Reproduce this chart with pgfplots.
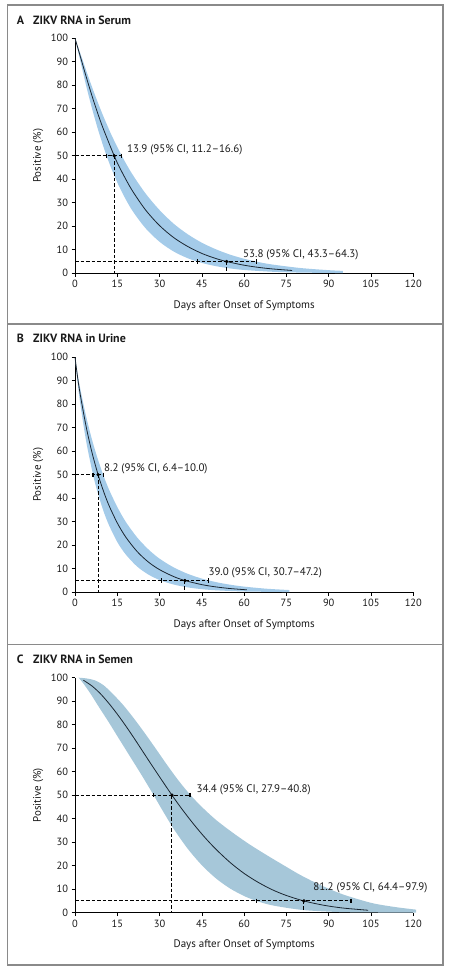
\documentclass[border=0pt]{standalone}
\usepackage{fontspec}
\setmainfont{PT Sans}
\usepackage{pgfplots}
\pgfplotsset{compat=1.18}
\usepgfplotslibrary{fillbetween}
\definecolor{bandAB}{HTML}{A4CBE9}
\definecolor{bandC}{HTML}{A6C7D9}
\definecolor{curve}{HTML}{1B2631}
\definecolor{framegray}{HTML}{8A8A8A}
\definecolor{txt}{HTML}{1A1A1A}
\pgfplotsset{
 zika/.style={
  scale only axis, width=338.3bp, height=235bp,
  xmin=0, xmax=120, ymin=0, ymax=100,
  axis lines=left, axis line style={-, black, line width=0.6bp},
  xtick={0,15,...,120}, ytick={0,10,...,100},
  tick align=outside, major tick length=3.5bp,
  tick style={black, line width=0.6bp},
  tick label style={font=\fontsize{10.5}{11}\selectfont, text=txt},
  /pgf/number format/assume math mode=true,
  xlabel={Days after Onset of Symptoms},
  ylabel={Positive (\%)},
  label style={font=\fontsize{11}{12}\selectfont, text=txt},
  xlabel style={at={(axis description cs:0.5,-0.1362)}, anchor=center},
  ylabel style={at={(axis description cs:-0.1085,0.5)}, anchor=center},
  clip=false,
 },
 dsh/.style={black, line width=1bp, dash pattern=on 3.5bp off 2bp},
 caps/.style={only marks, mark=|, black, mark size=2.2bp, mark options={solid, line width=1.1bp}},
 dots/.style={only marks, mark=*, black, mark size=1.5bp},
 med/.style={curve, line width=0.8bp, smooth},
}
\tikzset{ann/.style={anchor=west, inner sep=0pt, font=\fontsize{11}{12}\selectfont, text=txt},
 ttl/.style={anchor=west, inner sep=0pt, font=\bfseries\fontsize{12}{13}\selectfont, text=txt}}
\begin{document}
\begin{tikzpicture}
\path (0,0) rectangle (450bp,974bp);
\draw[framegray, line width=1.3bp] (7.5bp,9bp) rectangle (443bp,969bp);
\draw[framegray, line width=1.3bp] (7.5bp,650bp) -- (443bp,650bp);
\draw[framegray, line width=1.3bp] (7.5bp,329.5bp) -- (443bp,329.5bp);

\node[ttl] at (16.7bp,954bp) {A};
\node[ttl] at (33bp,954bp) {ZIKV RNA in Serum};
\node[ttl] at (16.7bp,636bp) {B};
\node[ttl] at (33bp,636bp) {ZIKV RNA in Urine};
\node[ttl] at (16.7bp,315bp) {C};
\node[ttl] at (33bp,315bp) {ZIKV RNA in Semen};

% ---------------- Panel A
\begin{axis}[zika, at={(75bp,700.7bp)}, anchor=south west]
\addplot[name path=AU, draw=none, smooth] coordinates {(0,100)(2,93.2)(4,86.2)(6,79.4)(8,73.0)(10,67.0)(13,58.7)(16.6,50)(20,42.8)(25,34.0)(30,26.9)(35,21.1)(40,16.6)(45,13.0)(50,10.2)(55,7.94)(60,6.18)(65,4.80)(70,3.73)(80,2.24)(90,1.33)(95,1.03)};
\addplot[name path=AL, draw=none, smooth] coordinates {(0,100)(2,89.8)(4,79.6)(6,70.3)(8,61.8)(10,54.2)(11.2,50)(13,44.3)(16,36.1)(20,27.3)(25,19.2)(30,13.4)(35,9.27)(40,6.41)(45,4.41)(50,3.03)(55,2.07)(60,1.41)(70,0.65)(80,0.30)(95,0.09)};
\addplot[bandAB, draw=none] fill between[of=AU and AL];
\addplot[med] coordinates {(0,100)(2,91.8)(4,83.5)(6,75.6)(8,68.3)(10,61.6)(13.9,50)(16,44.6)(20,35.8)(25,27.0)(30,20.3)(35,15.2)(40,11.4)(45,8.45)(50,6.27)(53.8,5.0)(60,3.43)(65,2.53)(70,1.86)(77,1.2)};
\addplot[dsh] coordinates {(0,50)(16.6,50)};
\addplot[dsh] coordinates {(13.9,50)(13.9,0)};
\addplot[dsh] coordinates {(0,5)(64.3,5)};
\addplot[dsh] coordinates {(53.8,5)(53.8,0)};
\addplot[caps] coordinates {(11.2,50)(16.6,50)(43.3,5)(64.3,5)};
\addplot[dots] coordinates {(13.9,50)(53.8,5)};
\node[ann] at (axis cs:18.4,52.5) {13.9 (95\% CI, 11.2–16.6)};
\node[ann] at (axis cs:59.6,7.8) {53.8 (95\% CI, 43.3–64.3)};
\end{axis}

% ---------------- Panel B
\begin{axis}[zika, at={(75bp,381.7bp)}, anchor=south west]
\addplot[name path=BU, draw=none, smooth] coordinates {(0,100)(1,92.3)(2,85.8)(4,74.6)(6,65.1)(8,57.0)(10,50)(12,43.9)(15,36.3)(18,30.0)(22,23.4)(26,18.3)(30,14.3)(35,10.6)(40,7.85)(45,5.83)(50,4.34)(55,3.24)(60,2.42)(68,1.52)(76,0.96)};
\addplot[name path=BL, draw=none, smooth] coordinates {(0,100)(1,88.6)(2,79.2)(4,64.0)(6.4,50)(8,42.6)(10,34.9)(12,28.7)(15,21.4)(18,16.1)(22,11.0)(26,7.57)(30,5.22)(35,3.30)(40,2.09)(45,1.33)(50,0.85)(60,0.35)(76,0.09)};
\addplot[bandAB, draw=none] fill between[of=BU and BL];
\addplot[med] coordinates {(0,100)(1,90.8)(2,83.2)(4,70.2)(6,59.6)(8.2,50)(10,43.4)(12,37.1)(15,29.5)(18,23.5)(22,17.4)(26,12.9)(30,9.63)(35,6.69)(39,5.0)(45,3.26)(50,2.29)(55,1.6)(61,1.05)};
\addplot[dsh] coordinates {(0,50)(10.0,50)};
\addplot[dsh] coordinates {(8.2,50)(8.2,0)};
\addplot[dsh] coordinates {(0,5)(47.2,5)};
\addplot[dsh] coordinates {(39.0,5)(39.0,0)};
\addplot[caps] coordinates {(6.4,50)(10.0,50)(30.7,5)(47.2,5)};
\addplot[dots] coordinates {(8.2,50)(39.0,5)};
\node[ann] at (axis cs:10.3,52.6) {8.2 (95\% CI, 6.4–10.0)};
\node[ann] at (axis cs:47.3,8.1) {39.0 (95\% CI, 30.7–47.2)};
\end{axis}

% ---------------- Panel C
\begin{axis}[zika, at={(75bp,61.3bp)}, anchor=south west]
\addplot[name path=CU, draw=none, smooth] coordinates {(1.3,100)(4,99.7)(7,98.9)(10,96.9)(13,93.6)(17,88.5)(21,82.5)(25,76)(29,69.2)(33,62.3)(37,55.8)(41,50)(45,45)(50,39.5)(56,34)(62,29)(68,24.5)(74,20.2)(80,16)(87,11.8)(95,7.8)(105,4.2)(113,2.5)(121,1.3)};
\addplot[name path=CL, draw=none, smooth] coordinates {(1.3,100)(3,97.5)(5.5,93.2)(8.5,87.5)(12,81)(15.5,74.2)(19.5,66.5)(23.5,58.8)(27.9,50)(31,43.6)(35,35.7)(40,27.2)(45,20.2)(50,14.6)(55,10.3)(60,7.09)(64.4,5.0)(70,3.12)(80,1.25)(90,0.46)(100,0.15)(121,0.01)};
\addplot[bandC, draw=none] fill between[of=CU and CL];
\addplot[med] coordinates {(3,98.9)(6,96.5)(9,93.2)(12,89.1)(15,84.5)(18,79.5)(21,74.2)(24,68.7)(27,63.2)(30,57.8)(34.4,50)(38,44.0)(42,37.8)(46,32.1)(50,27.0)(55,21.4)(60,16.7)(65,12.9)(70,9.76)(75,7.31)(81.2,5.0)(88,3.22)(95,1.99)(104,1.04)};
\addplot[dsh] coordinates {(0,50)(40.8,50)};
\addplot[dsh] coordinates {(34.4,50)(34.4,0)};
\addplot[dsh] coordinates {(0,5)(97.9,5)};
\addplot[dsh] coordinates {(81.2,5)(81.2,0)};
\addplot[caps] coordinates {(27.9,50)(40.8,50)(64.4,5)(97.9,5)};
\addplot[dots] coordinates {(34.4,50)(81.2,5)};
\node[ann] at (axis cs:43.1,52.4) {34.4 (95\% CI, 27.9–40.8)};
\node[ann] at (axis cs:84.5,10.7) {81.2 (95\% CI, 64.4–97.9)};
\end{axis}
\end{tikzpicture}
\end{document}
